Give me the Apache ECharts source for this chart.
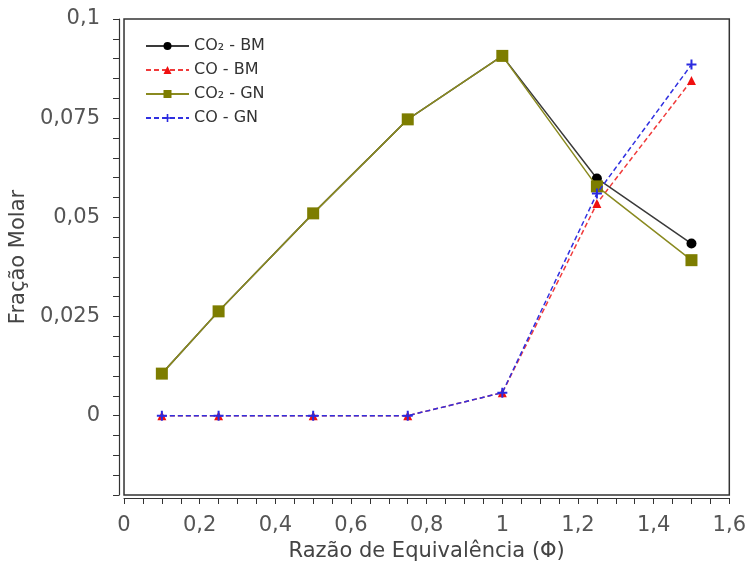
<!DOCTYPE html>
<html>
<head>
<meta charset="utf-8">
<script src="https://cdn.jsdelivr.net/npm/echarts@6/dist/echarts.min.js"></script>
<style>
  html, body { margin: 0; padding: 0; background: #fff; }
  #main { width: 749px; height: 572px; }
</style>
</head>
<body>
<div id="main"></div>
<script>
// razao de equivalencia (phi)
const phi = [0.1, 0.25, 0.5, 0.75, 1.0, 1.25, 1.5]
const co2BM = [0.0106, 0.0263, 0.0510, 0.0747, 0.0907, 0.0598, 0.0434]
const coBM = [0, 0, 0, 0, 0.0058, 0.0535, 0.0845]
const co2GN = [0.0106, 0.0263, 0.0510, 0.0747, 0.0907, 0.0578, 0.0392]
const coGN = [0, 0, 0, 0, 0.0058, 0.0560, 0.0885]
const seriesNames = ['CO₂ - BM', 'CO - BM', 'CO₂ - GN', 'CO - GN']

const font = 'DejaVu Sans'
const pair = (ys) => phi.map((x, i) => [x, ys[i]])
const comma = (v) => String(+v.toFixed(4)).replace('.', ',')
const onStep = (v, step) => Math.abs(v / step - Math.round(v / step)) < 1e-6

const chart = echarts.init(document.getElementById('main'))
chart.setOption({
  animation: false,
  backgroundColor: '#fff',
  grid: {
    left: 123, right: 19, top: 19, bottom: 77,
    show: true, borderColor: '#333', borderWidth: 1.5
  },
  legend: {
    left: 140, top: 33, orient: 'vertical',
    itemWidth: 43, itemHeight: 10, itemGap: 8,
    textStyle: { fontFamily: font, fontSize: 16, color: '#333' },
    data: seriesNames
  },
  xAxis: {
    type: 'value', min: 0, max: 1.6, interval: 0.05, offset: 3,
    name: 'Razão de Equivalência (Φ)', nameLocation: 'middle', nameGap: 40,
    nameTextStyle: { fontFamily: font, fontSize: 21, color: '#444' },
    axisLine: { onZero: false, lineStyle: { color: '#333', width: 1.2 } },
    axisTick: { length: 6, lineStyle: { color: '#333' } },
    axisLabel: {
      interval: 0, fontFamily: font, fontSize: 21, color: '#555', margin: 17,
      formatter: (v) => onStep(v, 0.2) ? comma(v) : ''
    },
    splitLine: { show: false }
  },
  yAxis: {
    type: 'value', min: -0.02, max: 0.1, interval: 0.005, offset: 5,
    name: 'Fração Molar', nameLocation: 'middle', nameGap: 77,
    nameTextStyle: { fontFamily: font, fontSize: 21, color: '#444' },
    axisLine: { onZero: false, lineStyle: { color: '#333', width: 1.2 } },
    axisTick: { length: 6, lineStyle: { color: '#333' } },
    axisLabel: {
      interval: 0, fontFamily: font, fontSize: 21, color: '#555', margin: 19,
      formatter: (v) => onStep(v, 0.025) ? comma(v) : ''
    },
    splitLine: { show: false }
  },
  series: [
    {
      name: seriesNames[0], type: 'line', data: pair(co2BM),
      symbol: 'circle', symbolSize: 10,
      lineStyle: { color: '#3a3a3a', width: 1.5 },
      itemStyle: { color: '#000' }, z: 3
    },
    {
      name: seriesNames[1], type: 'line', data: pair(coBM),
      symbol: 'triangle', symbolSize: 9,
      lineStyle: { color: '#f03a3a', width: 1.5, type: [5, 3] },
      itemStyle: { color: '#f01010' }, z: 2
    },
    {
      name: seriesNames[2], type: 'line', data: pair(co2GN),
      symbol: 'rect', symbolSize: 12,
      lineStyle: { color: '#8a8a20', width: 1.5 },
      itemStyle: { color: '#7d7d00' }, z: 4
    },
    {
      name: seriesNames[3], type: 'line', data: pair(coGN),
      symbol: 'path://M4,0H6V4H10V6H6V10H4V6H0V4H4Z', symbolSize: 10,
      lineStyle: { color: '#3030e0', width: 1.5, type: [5, 3] },
      itemStyle: { color: '#2a2ae0' }, z: 5
    }
  ]
})
</script>
</body>
</html>
